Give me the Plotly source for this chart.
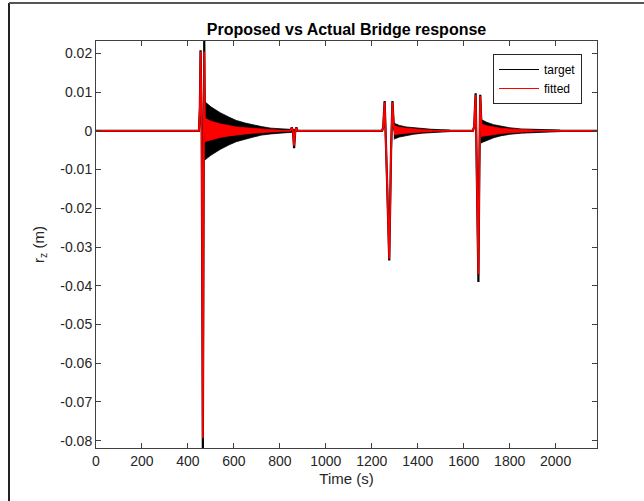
import plotly.graph_objects as go

# ---------------- data ----------------
# target (black) main trace: baseline + spikes, time in s, displacement in m
target_t = [0, 448, 452, 455, 460, 465, 468, 471, 474,
            845, 852, 857, 862, 867, 872, 877,
            1245, 1250, 1253, 1256, 1266, 1276, 1284, 1290, 1296, 1300,
            1640, 1646, 1649, 1652, 1658, 1664, 1668, 1672, 1678,
            2180]
target_r = [0, 0, 0.0060, 0.0208, 0.0, -0.0820, -0.020, 0.0232, 0.0,
            0, 0.0009, 0.0, -0.0045, 0.0, 0.0009, 0,
            0, 0.0010, 0.0045, 0.0077, -0.012, -0.0335, -0.005, 0.0077, 0.0010, 0,
            0, 0.0012, 0.0060, 0.0097, -0.015, -0.0390, -0.010, 0.0093, 0,
            0]

# fitted (red) main trace
fitted_t = [0, 448, 452, 455, 460, 465, 468, 471, 474,
            845, 852, 857, 862, 867, 872, 877,
            1245, 1250, 1253, 1256, 1266, 1276, 1284, 1290, 1296, 1300,
            1640, 1646, 1649, 1652, 1658, 1664, 1668, 1672, 1678,
            2180]
fitted_r = [0, 0, 0.0055, 0.0205, 0.0, -0.0794, -0.020, 0.0205, 0.0,
            0, 0.0008, 0.0, -0.0038, 0.0, 0.0008, 0,
            0, 0.0010, 0.0042, 0.0074, -0.012, -0.0330, -0.005, 0.0074, 0.0010, 0,
            0, 0.0012, 0.0058, 0.0093, -0.015, -0.0370, -0.010, 0.0090, 0,
            0]

# envelopes of the free-vibration after each passage (dense oscillation)
tgt_env1_t = [472, 478, 500, 540, 580, 610, 650, 685, 720, 760, 800, 830, 870]
tgt_env1_hi = [0.0074, 0.0073, 0.0062, 0.0047, 0.0035, 0.0027, 0.0020, 0.0015, 0.0011, 0.0007, 0.0005, 0.0004, 0.0003]
tgt_env1_lo = [-0.0076, -0.0074, -0.0063, -0.0048, -0.0036, -0.0028, -0.0021, -0.0016, -0.0011, -0.0008, -0.0006, -0.0004, -0.0003]

tgt_env3_t = [1296, 1302, 1320, 1350, 1380, 1420, 1460, 1500, 1540]
tgt_env3_hi = [0.0020, 0.0018, 0.0014, 0.0010, 0.0008, 0.0005, 0.0004, 0.0003, 0.0002]
tgt_env3_lo = [-0.0022, -0.0020, -0.0016, -0.0012, -0.0009, -0.0006, -0.0004, -0.0003, -0.0002]

tgt_env4_t = [1674, 1680, 1700, 1730, 1760, 1800, 1850, 1900, 1960, 2020]
tgt_env4_hi = [0.0030, 0.0028, 0.0022, 0.0016, 0.0012, 0.0008, 0.0005, 0.0004, 0.0003, 0.0002]
tgt_env4_lo = [-0.0032, -0.0030, -0.0024, -0.0018, -0.0013, -0.0009, -0.0006, -0.0004, -0.0003, -0.0002]

fit_env1_t = [472, 478, 500, 540, 580, 610, 650, 685, 720, 760, 800]
fit_env1_hi = [0.0033, 0.0031, 0.0025, 0.0018, 0.0013, 0.0010, 0.0008, 0.0006, 0.0004, 0.0003, 0.0002]
fit_env1_lo = [-0.0028, -0.0027, -0.0023, -0.0017, -0.0013, -0.0010, -0.0008, -0.0006, -0.0004, -0.0003, -0.0002]

fit_env3_t = [1296, 1302, 1320, 1350, 1380, 1420, 1460]
fit_env3_hi = [0.0013, 0.0012, 0.0009, 0.0007, 0.0005, 0.0003, 0.0002]
fit_env3_lo = [-0.0010, -0.0009, -0.0008, -0.0006, -0.0004, -0.0003, -0.0002]

fit_env4_t = [1674, 1680, 1700, 1730, 1760, 1800, 1850, 1900]
fit_env4_hi = [0.0018, 0.0017, 0.0013, 0.0010, 0.0007, 0.0005, 0.0003, 0.0002]
fit_env4_lo = [-0.0015, -0.0014, -0.0012, -0.0009, -0.0007, -0.0005, -0.0003, -0.0002]

x_ticks = [0, 200, 400, 600, 800, 1000, 1200, 1400, 1600, 1800, 2000]
y_ticks = [0.02, 0.01, 0, -0.01, -0.02, -0.03, -0.04, -0.05, -0.06, -0.07, -0.08]
y_ticklabels = ["0.02", "0.01", "0", "-0.01", "-0.02", "-0.03", "-0.04", "-0.05", "-0.06", "-0.07", "-0.08"]


def band(parts):
    xs, ys = [], []
    for t, hi, lo in parts:
        xs += list(t) + list(reversed(t)) + [None]
        ys += list(hi) + list(reversed(lo)) + [None]
    return xs, ys


tb_x, tb_y = band([(tgt_env1_t, tgt_env1_hi, tgt_env1_lo),
                   (tgt_env3_t, tgt_env3_hi, tgt_env3_lo),
                   (tgt_env4_t, tgt_env4_hi, tgt_env4_lo)])
fb_x, fb_y = band([(fit_env1_t, fit_env1_hi, fit_env1_lo),
                   (fit_env3_t, fit_env3_hi, fit_env3_lo),
                   (fit_env4_t, fit_env4_hi, fit_env4_lo)])

FONT = "Liberation Sans, Arial, sans-serif"
TXT = "#262626"

fig = go.Figure()
fig.add_trace(go.Scatter(x=tb_x, y=tb_y, mode="lines", fill="toself",
                         fillcolor="black", line=dict(color="black", width=0.8),
                         showlegend=False, hoverinfo="skip"))
fig.add_trace(go.Scatter(x=target_t, y=target_r, mode="lines", name="target",
                         line=dict(color="black", width=2.2), showlegend=False))
fig.add_trace(go.Scatter(x=fb_x, y=fb_y, mode="lines", fill="toself",
                         fillcolor="#ff0000", line=dict(color="#ff0000", width=0.8),
                         showlegend=False, hoverinfo="skip"))
fig.add_trace(go.Scatter(x=fitted_t, y=fitted_r, mode="lines", name="fitted",
                         line=dict(color="#ff0000", width=1.8), showlegend=False))
# legend entries (thin lines, as in the reference legend)
fig.add_trace(go.Scatter(x=[None], y=[None], mode="lines", name="target",
                         line=dict(color="black", width=1)))
fig.add_trace(go.Scatter(x=[None], y=[None], mode="lines", name="fitted",
                         line=dict(color="#ff0000", width=1)))

axis_common = dict(showline=True, linecolor="#404040", linewidth=1, mirror="ticks",
                   ticks="inside", ticklen=5, tickcolor="#404040", showgrid=False,
                   zeroline=False, automargin=False,
                   tickfont=dict(family=FONT, size=14, color=TXT))

fig.update_xaxes(range=[0, 2180], tickvals=x_ticks,
                 title=dict(text="Time (s)", font=dict(family=FONT, size=15, color=TXT), standoff=5),
                 **axis_common)
fig.update_yaxes(range=[-0.0819, 0.0232], tickvals=y_ticks, ticktext=y_ticklabels,
                 title=dict(text="r<sub>z</sub> (m)", font=dict(family=FONT, size=15, color=TXT), standoff=12),
                 **axis_common)

L, R, T, B = 96, 47, 41, 53
W, H = 644, 501
pw, ph = W - L - R, H - T - B

def px_x(p):
    return (p - L) / pw

def px_y(p):
    return (H - B - p) / ph

fig.update_layout(
    width=W, height=H,
    margin=dict(l=L, r=R, t=T, b=B, pad=0, autoexpand=False),
    paper_bgcolor="white", plot_bgcolor="white",
    title=dict(text="<b>Proposed vs Actual Bridge response</b>", x=0.5, xref="paper",
               y=1 - 29 / H, yref="container", xanchor="center", yanchor="middle",
               font=dict(family=FONT, size=16, color="black")),
    legend=dict(x=px_x(493), y=px_y(54), xanchor="left", yanchor="top",
                bgcolor="white", bordercolor="#262626", borderwidth=1,
                font=dict(family=FONT, size=12, color="black"),
                tracegroupgap=0, itemwidth=40),
    showlegend=True,
    shapes=[
        dict(type="line", xref="paper", yref="paper", x0=px_x(9), x1=px_x(9),
             y0=px_y(3), y1=px_y(H + 5), line=dict(color="#222222", width=2)),
        dict(type="line", xref="paper", yref="paper", x0=px_x(9), x1=px_x(W + 5),
             y0=px_y(3), y1=px_y(3), line=dict(color="#555555", width=2)),
    ],
)

fig.write_html("out.html", config={"displayModeBar": False},
               post_script="document.body.style.margin='0';document.body.style.overflow='hidden';")
